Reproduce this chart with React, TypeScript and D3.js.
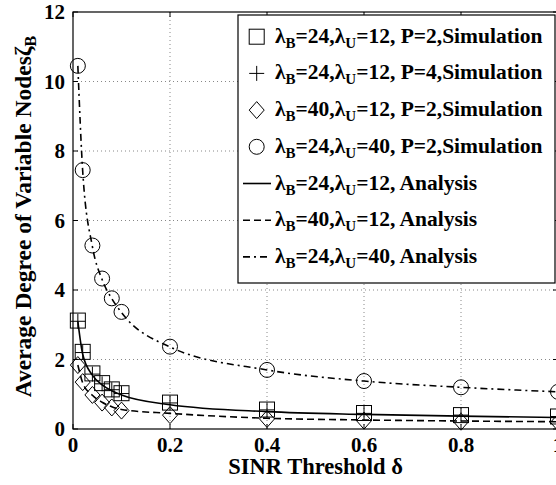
import React from "react";
import * as d3 from "d3";

const xs = [0.01, 0.02, 0.04, 0.06, 0.08, 0.1, 0.2, 0.4, 0.6, 0.8, 1.0];
const simSquare = [3.12, 2.22, 1.6, 1.32, 1.14, 1.03, 0.76, 0.56, 0.46, 0.4, 0.36];
const simPlus = [3.1, 2.2, 1.58, 1.3, 1.13, 1.02, 0.75, 0.55, 0.45, 0.4, 0.36];
const simDiamond = [1.84, 1.35, 0.98, 0.76, 0.62, 0.53, 0.4, 0.29, 0.24, 0.21, 0.19];
const simCircle = [10.45, 7.45, 5.28, 4.33, 3.76, 3.37, 2.37, 1.7, 1.38, 1.2, 1.07];
const anaSolid = [3.1, 2.15, 1.55, 1.27, 1.1, 0.98, 0.7, 0.5, 0.42, 0.37, 0.33];
const anaDashed = [1.84, 1.33, 0.97, 0.77, 0.64, 0.56, 0.45, 0.31, 0.26, 0.23, 0.21];
const anaDashDot = [10.45, 7.42, 5.25, 4.3, 3.75, 3.35, 2.36, 1.7, 1.38, 1.2, 1.07];
const xTicks = [0, 0.2, 0.4, 0.6, 0.8, 1];
const yTicks = [0, 2, 4, 6, 8, 10, 12];

const W = 556, H = 485;
const left = 73, right = 558, top = 12, bottom = 429;
const FONT = "'Liberation Serif', 'Times New Roman', serif";

type Marker = "square" | "plus" | "diamond" | "circle";
const legendRows: { kind: "marker" | "line"; marker?: Marker; dash?: string; b: string; u: string; tail: string }[] = [
  { kind: "marker", marker: "square", b: "24", u: "12", tail: ", P=2,Simulation" },
  { kind: "marker", marker: "plus", b: "24", u: "12", tail: ", P=4,Simulation" },
  { kind: "marker", marker: "diamond", b: "40", u: "12", tail: ", P=2,Simulation" },
  { kind: "marker", marker: "circle", b: "24", u: "40", tail: ", P=2,Simulation" },
  { kind: "line", dash: "none", b: "24", u: "12", tail: ", Analysis" },
  { kind: "line", dash: "7,4", b: "40", u: "12", tail: ", Analysis" },
  { kind: "line", dash: "7,4,2,4", b: "24", u: "40", tail: ", Analysis" },
];

function MarkerShape({ type, cx, cy }: { type: Marker; cx: number; cy: number }) {
  const s = 7.5;
  const common = { fill: "none", stroke: "#000", strokeWidth: 1 };
  if (type === "square") return <rect x={cx - s} y={cy - s} width={2 * s} height={2 * s} {...common} />;
  if (type === "circle") return <circle cx={cx} cy={cy} r={s} {...common} />;
  if (type === "diamond")
    return <path d={`M${cx},${cy - s - 1}L${cx + s},${cy}L${cx},${cy + s + 1}L${cx - s},${cy}Z`} {...common} />;
  return <path d={`M${cx - s},${cy}H${cx + s}M${cx},${cy - s}V${cy + s}`} {...common} />;
}

export default function App() {
  const x = d3.scaleLinear().domain([0, 1]).range([left, right]);
  const y = d3.scaleLinear().domain([0, 12]).range([bottom, top]);
  const line = d3
    .line<number>()
    .x((_, i) => x(xs[i]))
    .y((d) => y(d))
    .curve(d3.curveMonotoneX);

  const series: { data: number[]; marker: Marker }[] = [
    { data: simSquare, marker: "square" },
    { data: simPlus, marker: "plus" },
    { data: simDiamond, marker: "diamond" },
    { data: simCircle, marker: "circle" },
  ];

  const lgX = 238, lgY = 15, lgW = 317, lgH = 268, rowH = 36.7;

  return (
    <svg
      width={W}
      height={H}
      style={{ position: "absolute", left: 0, top: 0, background: "#fff" }}
      fontFamily={FONT}
      fontWeight="bold"
    >
      <rect width={W} height={H} fill="#fff" />
      {xTicks.slice(1, -1).map((t) => (
        <line key={"gx" + t} x1={x(t)} x2={x(t)} y1={top} y2={bottom} stroke="#888" strokeDasharray="1,3" />
      ))}
      {yTicks.slice(1, -1).map((t) => (
        <line key={"gy" + t} x1={left} x2={right} y1={y(t)} y2={y(t)} stroke="#888" strokeDasharray="1,3" />
      ))}
      <path d={line(anaSolid) || ""} fill="none" stroke="#000" strokeWidth={1.6} />
      <path d={line(anaDashed) || ""} fill="none" stroke="#000" strokeWidth={1.6} strokeDasharray="7,4" />
      <path d={line(anaDashDot) || ""} fill="none" stroke="#000" strokeWidth={1.6} strokeDasharray="7,4,2,4" />
      {series.map((s) =>
        s.data.map((v, i) => <MarkerShape key={s.marker + i} type={s.marker} cx={x(xs[i])} cy={y(v)} />)
      )}
      <rect x={left} y={top} width={right - left} height={bottom - top} fill="none" stroke="#000" strokeWidth={1.2} />
      {xTicks.map((t) => (
        <g key={"xt" + t}>
          <line x1={x(t)} x2={x(t)} y1={bottom} y2={bottom - 5} stroke="#000" />
          <line x1={x(t)} x2={x(t)} y1={top} y2={top + 5} stroke="#000" />
          <text x={x(t)} y={452} textAnchor="middle" fontSize={21}>
            {d3.format("~g")(t)}
          </text>
        </g>
      ))}
      {yTicks.map((t) => (
        <g key={"yt" + t}>
          <line x1={left} x2={left + 5} y1={y(t)} y2={y(t)} stroke="#000" />
          <line x1={right} x2={right - 5} y1={y(t)} y2={y(t)} stroke="#000" />
          <text x={65} y={y(t) + 7} textAnchor="end" fontSize={21}>
            {t}
          </text>
        </g>
      ))}
      <text x={(left + right) / 2} y={474} textAnchor="middle" fontSize={22.5}>
        SINR Threshold δ
      </text>
      <text transform={`translate(31,${(top + bottom) / 2 - 4}) rotate(-90)`} textAnchor="middle" fontSize={23.5}>
        Average Degree of Variable Nodesζ
        <tspan fontSize={16} dy={5}>B</tspan>
      </text>
      <rect x={lgX} y={lgY} width={lgW} height={lgH} fill="#fff" stroke="#000" strokeWidth={1.2} />
      {legendRows.map((r, i) => {
        const cy = 36.7 + i * rowH;
        return (
          <g key={"lg" + i}>
            {r.kind === "marker" ? (
              <MarkerShape type={r.marker!} cx={256.7} cy={cy} />
            ) : (
              <line x1={243} x2={271} y1={cy} y2={cy} stroke="#000" strokeWidth={1.6}
                strokeDasharray={r.dash === "none" ? undefined : r.dash} />
            )}
            <text x={275} y={cy + 6} fontSize={21.5}>
              λ<tspan fontSize={15} dy={5}>B</tspan>
              <tspan dy={-5}>={r.b},λ</tspan>
              <tspan fontSize={15} dy={5}>U</tspan>
              <tspan dy={-5}>={r.u}{r.tail}</tspan>
            </text>
          </g>
        );
      })}
    </svg>
  );
}
